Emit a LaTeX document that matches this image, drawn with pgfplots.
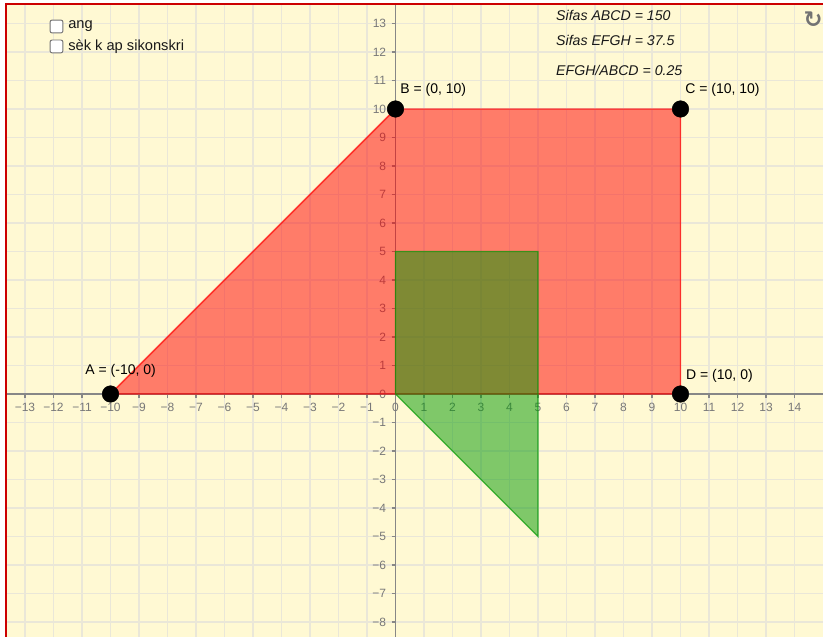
\documentclass[border=0pt]{standalone}
\usepackage{pgfplots}
\pgfplotsset{compat=1.18}
\usepackage{fontspec}
\setmainfont{Liberation Sans}
\newfontfamily\djv{DejaVu Sans}
\definecolor{bgyellow}{RGB}{255,249,211}
\definecolor{gridc}{RGB}{234,231,216}
\definecolor{axisc}{RGB}{135,135,135}
\definecolor{tickc}{RGB}{120,120,120}
\definecolor{ggred}{RGB}{255,0,0}
\definecolor{gggreen}{RGB}{0,153,0}
\definecolor{borderred}{RGB}{204,0,0}
\begin{document}
\begin{tikzpicture}
\begin{axis}[name=ax,
  width=617.25pt, height=477.75pt, scale only axis,
  xmin=-13.877, xmax=15.0, ymin=-8.526, ymax=13.825,
  axis lines=middle,
  axis line style={draw=axisc, line width=1pt, -},
  axis background/.style={fill=bgyellow},
  grid=major, major grid style={draw=gridc, line width=1.1pt},
  xtick={-13,...,14}, ytick={-8,...,13},
  xticklabels={−13,−12,−11,−10,−9,−8,−7,−6,−5,−4,−3,−2,−1,0,1,2,3,4,5,6,7,8,9,10,11,12,13,14},
  yticklabels={−8,−7,−6,−5,−4,−3,−2,−1,0,1,2,3,4,5,6,7,8,9,10,11,12,13},
  tick align=outside, major tick length=3pt,
  tick style={draw=axisc, line width=0.8pt},
  ticklabel style={font=\fontsize{9}{10}\selectfont, text=tickc},
  xticklabel style={yshift=-0.5pt},
  yticklabel style={xshift=-0.5pt},
  hide obscured x ticks=false, hide obscured y ticks=false,
  clip=true,
]
% quadrilateral ABCD
\addplot[draw=ggred, draw opacity=0.7, line width=1.1pt, fill=ggred, fill opacity=0.5]
  coordinates {(-10,0) (0,10) (10,10) (10,0)} -- cycle;
% polygon EFGH
\addplot[draw=gggreen, draw opacity=0.7, line width=1pt, fill=gggreen, fill opacity=0.5]
  coordinates {(0,0) (0,5) (5,5) (5,-5)} -- cycle;
% points
\addplot[only marks, mark=*, mark size=6.2pt, black] coordinates {(-10,0) (0,10) (10,10) (10,0)};

\tikzset{lbl/.style={anchor=west, inner sep=0pt, font=\fontsize{10.5}{12}\selectfont}}
\node[lbl] at (axis cs:0.16,10.67) {B = (0, 10)};
\node[lbl] at (axis cs:10.16,10.67) {C = (10, 10)};
\node[lbl] at (axis cs:-10.89,0.81) {A = (-10, 0)};
\node[lbl] at (axis cs:10.19,0.63) {D = (10, 0)};

\tikzset{sif/.style={anchor=west, inner sep=0pt, font=\itshape\fontsize{10.6}{12}\selectfont, text=black!90}}
\node[sif] at (axis cs:5.63,13.3) {Sifas ABCD = 150};
\node[sif] at (axis cs:5.63,12.39) {Sifas EFGH = 37.5};
\node[sif] at (axis cs:5.63,11.37) {EFGH/ABCD = 0.25};

% checkboxes
\draw[rounded corners=1.5pt, fill=white, draw=black!55, line width=0.7pt] (axis cs:-12.12,13.12) rectangle (axis cs:-11.67,12.67);
\draw[rounded corners=1.5pt, fill=white, draw=black!55, line width=0.7pt] (axis cs:-12.12,12.42) rectangle (axis cs:-11.67,11.97);
\node[anchor=west, inner sep=0pt, font=\fontsize{11}{12}\selectfont, text=black!90] at (axis cs:-11.49,12.91) {ang};
\node[anchor=west, inner sep=0pt, font=\fontsize{11}{12}\selectfont, text=black!90] at (axis cs:-11.49,12.2) {sèk k ap sikonskri};

% refresh icon
\node[font=\djv\bfseries\fontsize{17}{17}\selectfont, text=black!55] at (axis cs:14.65,13.12) {↻};

% frame
\fill[white] (axis cs:-15,-10) rectangle (axis cs:-13.665,15);
\fill[white] (axis cs:-15,13.68) rectangle (axis cs:16,15);
\draw[borderred, line width=1.9pt] (axis cs:-13.665,-10) -- (axis cs:-13.665,13.68) -- (axis cs:16,13.68);
\end{axis}
\pgfresetboundingbox
\path (ax.south west) rectangle (ax.north east);
\end{tikzpicture}
\end{document}
